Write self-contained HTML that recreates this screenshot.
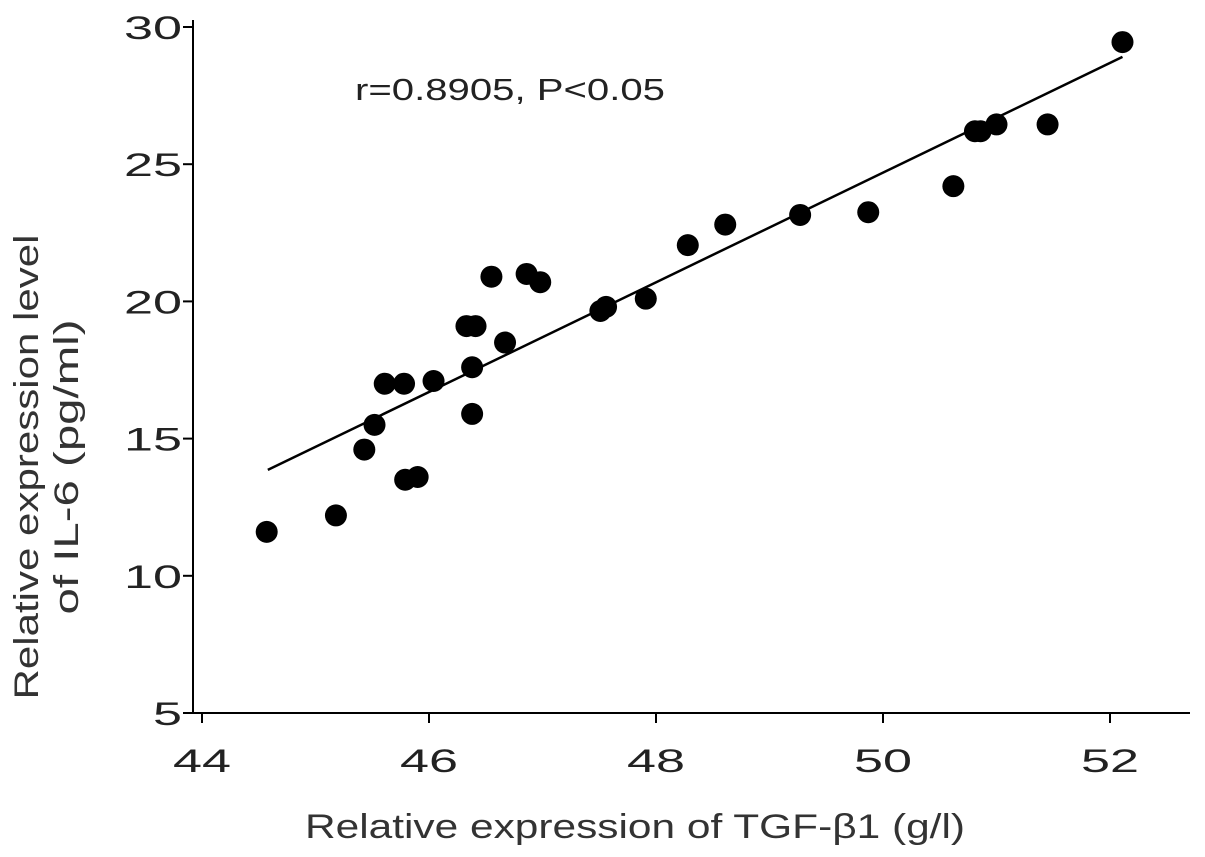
<!DOCTYPE html>
<html><head><meta charset="utf-8"><style>
html,body{margin:0;padding:0;background:#fff;}
svg{display:block;font-family:"Liberation Sans",Arial,sans-serif;}
</style></head><body>
<svg id="chart" width="1205" height="857"></svg>
<script>
const xTicks=[44,46,48,50,52];
const yTicks=[5,10,15,20,25,30];
const xVals=[44.57,45.18,45.43,45.52,45.61,45.78,45.79,45.9,46.04,46.33,46.41,46.38,46.38,46.55,46.67,46.86,46.98,47.51,47.56,47.91,48.28,48.61,49.27,49.87,50.62,50.81,50.86,51.0,51.45,52.11];
const yVals=[11.6,12.2,14.6,15.5,17.0,17.0,13.5,13.6,17.1,19.1,19.1,17.6,15.9,20.9,18.5,21.0,20.7,19.65,19.8,20.1,22.05,22.8,23.15,23.25,24.2,26.2,26.2,26.45,26.45,29.45];
const fitX=[44.58,52.11];
const fitY=[13.86,28.91];
const ns="http://www.w3.org/2000/svg";
const svg=document.getElementById('chart');
const sx=v=>202+(v-44)*113.5;
const sy=v=>713-(v-5)*27.44;
function mk(t,a){const e=document.createElementNS(ns,t);for(const k in a)e.setAttribute(k,a[k]);svg.appendChild(e);return e;}
let e;
e=mk('line',{x1:193,y1:713,x2:1190,y2:713,stroke:'#000','stroke-width':2});


e=mk('line',{x1:193,y1:20,x2:193,y2:714,stroke:'#000','stroke-width':2});


xTicks.forEach(t=>{
  e=mk('line',{x1:sx(t),y1:713,x2:sx(t),y2:723,stroke:'#000','stroke-width':2});
  
  
  e=mk('text',{x:sx(t),y:772,'font-size':32,'text-anchor':'middle',fill:'#222',textLength:58,lengthAdjust:'spacingAndGlyphs'});e.textContent=t;
  
  
});
yTicks.forEach(t=>{
  e=mk('line',{x1:183,y1:sy(t),x2:193,y2:sy(t),stroke:'#000','stroke-width':2});
  
  
  e=mk('text',{x:182,y:sy(t)+12,'font-size':32,'text-anchor':'end',fill:'#222',textLength:String(t).length*29,lengthAdjust:'spacingAndGlyphs'});e.textContent=t;
  
  
});
e=mk('line',{x1:sx(fitX[0]),y1:sy(fitY[0]),x2:sx(fitX[1]),y2:sy(fitY[1]),stroke:'#000','stroke-width':2.5});


xVals.forEach((v,i)=>{
  e=mk('circle',{cx:sx(v),cy:sy(yVals[i]),r:11,fill:'#000'});
  
  
});
e=mk('text',{x:355,y:100,'font-size':31,fill:'#222',textLength:310,lengthAdjust:'spacingAndGlyphs'});e.textContent='r=0.8905, P<0.05';


e=mk('text',{x:305,y:838,'font-size':34,fill:'#333',textLength:660,lengthAdjust:'spacingAndGlyphs'});e.textContent='Relative expression of TGF-β1 (g/l)';


e=mk('text',{x:0,y:0,'font-size':34,'text-anchor':'middle',fill:'#333',transform:'translate(38,467) rotate(-90)'});
const t1=document.createElementNS(ns,'tspan');t1.setAttribute('x',0);t1.setAttribute('dy',0);t1.setAttribute('textLength',465);t1.setAttribute('lengthAdjust','spacingAndGlyphs');t1.textContent='Relative expression level';e.appendChild(t1);
const t2=document.createElementNS(ns,'tspan');t2.setAttribute('x',0);t2.setAttribute('dy',40);t2.setAttribute('textLength',295);t2.setAttribute('lengthAdjust','spacingAndGlyphs');t2.textContent='of IL-6 (pg/ml)';e.appendChild(t2);


</script>
</body></html>
